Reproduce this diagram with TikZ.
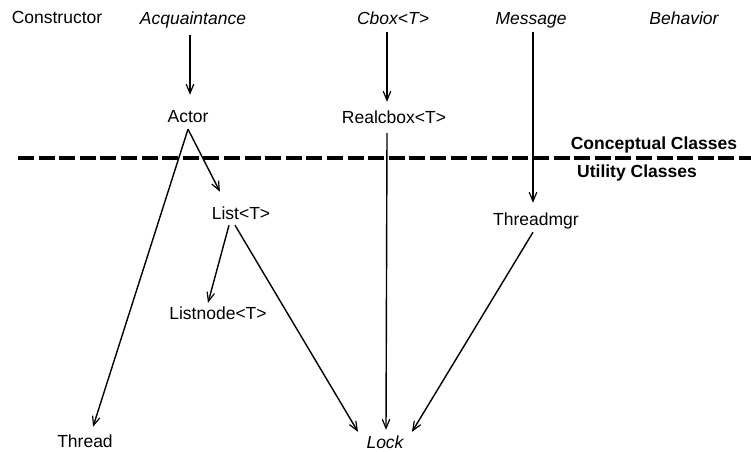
\documentclass[tikz,border=0pt]{standalone}
\usepackage{fontspec}
\setmainfont{Liberation Sans}
\usetikzlibrary{arrows.meta}
\begin{document}
\begin{tikzpicture}[x=1pt,y=1pt,
  cls/.style={inner sep=3pt,text height=12pt,text depth=0pt,
    font=\fontsize{17.5}{20}\selectfont},
  abs/.style={cls,font=\fontsize{17.5}{20}\selectfont\itshape},
  lbl/.style={inner sep=0pt,font=\fontsize{17.5}{20}\selectfont\bfseries},
  arr/.style={line width=1.4pt,-{Straight Barb[length=9pt,width=7.5pt,line width=1.2pt]}},
  sep/.style={line width=3.4pt,dash pattern=on 16pt off 4.6pt}]
\useasboundingbox (0,0) rectangle (751,-451);

% top row of abstract classes
\node[cls] (constructor) at (57,-17) {Constructor};
\node[abs] (acq)         at (193,-18) {Acquaintance};
\node[abs] (cbox)        at (393,-18) {Cbox<T>};
\node[abs] (message)     at (531,-18) {Message};
\node[abs] (behavior)    at (684,-18) {Behavior};

% conceptual classes
\node[cls] (actor)    at (188,-116) {Actor};
\node[cls] (realcbox) at (394,-117) {Realcbox<T>};

% separator between the two layers
\node[lbl] (concept) at (654,-145) {Conceptual Classes};
\node[lbl] (utility) at (637,-173) {Utility Classes};
\coordinate (sepL) at (18,-158);
\coordinate (sepR) at (751,-158);
\draw[sep] (sepL) -- (sepR);

% utility classes
\node[cls] (list)      at (241,-213) {List<T>};
\node[cls] (threadmgr) at (536,-219) {Threadmgr};
\node[cls] (listnode)  at (218,-313) {Listnode<T>};
\node[cls] (thread)    at (85,-441)  {Thread};
\node[abs] (lock)      at (385,-442) {Lock};

% dependencies
\draw[arr] ([xshift=-3pt,yshift=-8pt]acq.south) -- ([xshift=2pt,yshift=12pt]actor.north);
\draw[arr] ([xshift=-6pt,yshift=-5pt]cbox.south) -- ([xshift=-7pt,yshift=6pt]realcbox.north);
\draw[arr] ([xshift=2pt,yshift=-5pt]message.south) -- ([xshift=-3pt,yshift=7pt]threadmgr.north);
\draw[arr] ([yshift=-4pt]actor.south) -- ([xshift=-21pt,yshift=12pt]list.north);
\draw[arr] ([yshift=-4pt]actor.south) -- ([xshift=8pt,yshift=5pt]thread.north);
\draw[arr] ([xshift=-12pt,yshift=-3pt]list.south) -- ([xshift=-10pt,yshift=1pt]listnode.north);
\draw[arr] ([xshift=-6pt,yshift=-3pt]list.south) -- ([xshift=-27pt,yshift=1pt]lock.north);
\draw[arr] ([xshift=-7pt,yshift=-7pt]realcbox.south) -- ([xshift=1pt,yshift=3pt]lock.north);
\draw[arr] ([xshift=-3pt,yshift=-4pt]threadmgr.south) -- ([xshift=27pt,yshift=1pt]lock.north);
\end{tikzpicture}
\end{document}
